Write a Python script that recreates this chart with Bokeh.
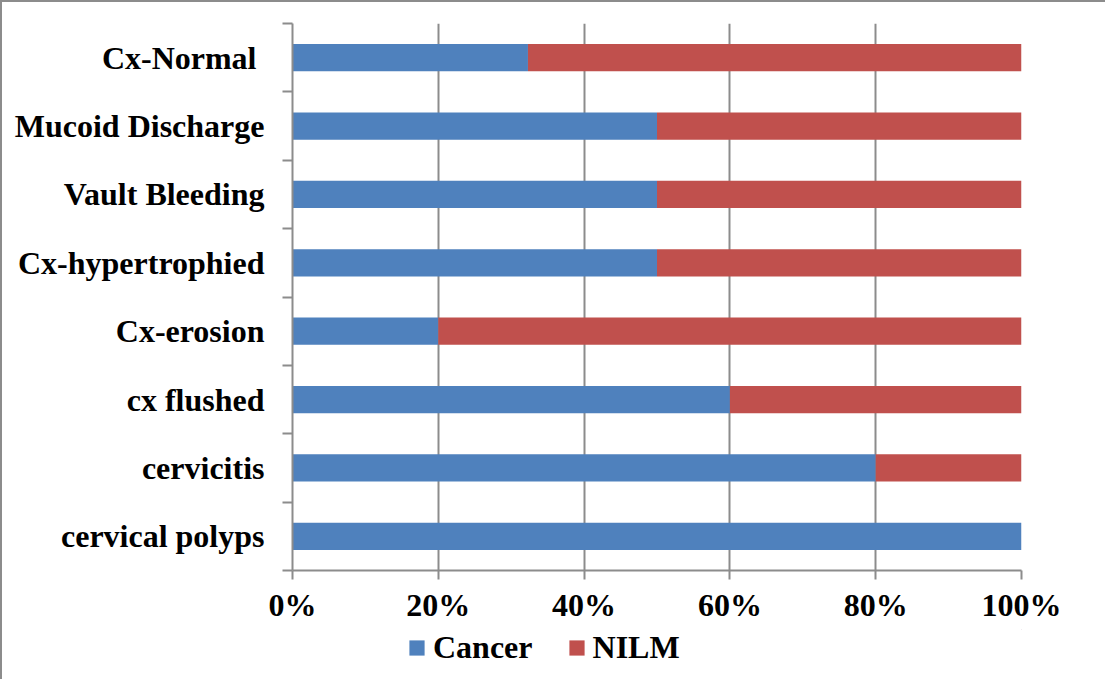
from bokeh.plotting import figure
from bokeh.layouts import column
from bokeh.models import Range1d, FixedTicker, PrintfTickFormatter, Legend, LegendItem, ColumnDataSource
from bokeh.embed import file_html
from bokeh.resources import INLINE

categories = ["cervical polyps", "cervicitis", "cx flushed", "Cx-erosion",
              "Cx-hypertrophied", "Vault Bleeding", "Mucoid Discharge", "Cx-Normal "]
cancer = [100, 80, 60, 20, 50, 50, 50, 32.3]
nilm = [0, 20, 40, 80, 50, 50, 50, 67.7]
x_ticks = [0, 20, 40, 60, 80, 100]
series = ["Cancer", "NILM"]
colors = ["#4F81BD", "#C0504D"]

positions = [i + 0.5 for i in range(len(categories))]
src = ColumnDataSource(dict(y=positions, Cancer=cancer, NILM=nilm))

GRAY = "#8c8c8c"
FONT = "Liberation Serif"
FS = "32px"

p = figure(width=1103, height=627, output_backend="svg", toolbar_location=None,
           x_range=Range1d(0, 100), y_range=Range1d(0, len(categories)),
           min_border_left=290, min_border_right=84, min_border_top=21, min_border_bottom=59)
p.outline_line_color = None
p.background_fill_color = "white"

rs = p.hbar_stack(series, y="y", height=0.4, source=src, color=colors, line_color=None)

# axes
p.xaxis.ticker = FixedTicker(ticks=x_ticks)
p.xaxis.formatter = PrintfTickFormatter(format="%d%%")
p.xaxis.axis_line_color = GRAY
p.xaxis.axis_line_width = 2
p.xaxis.major_tick_line_color = GRAY
p.xaxis.major_tick_line_width = 2
p.xaxis.major_tick_out = 9
p.xaxis.major_tick_in = 0
p.xaxis.minor_tick_line_color = None
p.xaxis.major_label_standoff = 7
p.xaxis.major_label_text_font = FONT
p.xaxis.major_label_text_font_style = "bold"
p.xaxis.major_label_text_font_size = FS
p.xaxis.major_label_text_color = "black"

p.yaxis.ticker = FixedTicker(ticks=positions, minor_ticks=list(range(len(categories) + 1)))
p.yaxis.major_label_overrides = {pos: name for pos, name in zip(positions, categories)}
p.yaxis.axis_line_color = GRAY
p.yaxis.axis_line_width = 2
p.yaxis.major_tick_line_color = None
p.yaxis.major_tick_out = 0
p.yaxis.major_tick_in = 0
p.yaxis.minor_tick_line_color = GRAY
p.yaxis.minor_tick_line_width = 2
p.yaxis.minor_tick_out = 10
p.yaxis.minor_tick_in = 0
p.yaxis.major_label_standoff = 18
p.yaxis.major_label_text_font = FONT
p.yaxis.major_label_text_font_style = "bold"
p.yaxis.major_label_text_font_size = FS
p.yaxis.major_label_text_color = "black"

p.xgrid.ticker = FixedTicker(ticks=x_ticks)
p.xgrid.grid_line_color = GRAY
p.xgrid.grid_line_width = 2
p.ygrid.grid_line_color = None

# legend strip (separate figure so that the legend is not clipped)
pl = figure(width=1103, height=50, output_backend="svg", toolbar_location=None,
            x_range=Range1d(0, 1), y_range=Range1d(0, 1),
            min_border=0, min_border_left=0, min_border_right=0,
            min_border_top=0, min_border_bottom=0)
pl.axis.visible = False
pl.grid.visible = False
pl.outline_line_color = None
items = []
for name, col in zip(series, colors):
    r = pl.hbar(y=[5], left=[5], right=[6], height=0.4, color=col, line_color=None)
    items.append(LegendItem(label=name, renderers=[r]))

legend = Legend(items=items, orientation="horizontal", location=(115, 13),
                glyph_width=19, glyph_height=19, label_standoff=7, spacing=34,
                padding=0, margin=0, border_line_color=None, background_fill_alpha=0,
                label_text_font=FONT, label_text_font_style="bold",
                label_text_font_size=FS, label_text_color="black")
pl.add_layout(legend, "center")

layout = column(p, pl, spacing=0,
                styles={"border-left": "2px solid #8c8c8c", "border-top": "2px solid #8c8c8c"})

open("out.html", "w").write(file_html(layout, INLINE))
